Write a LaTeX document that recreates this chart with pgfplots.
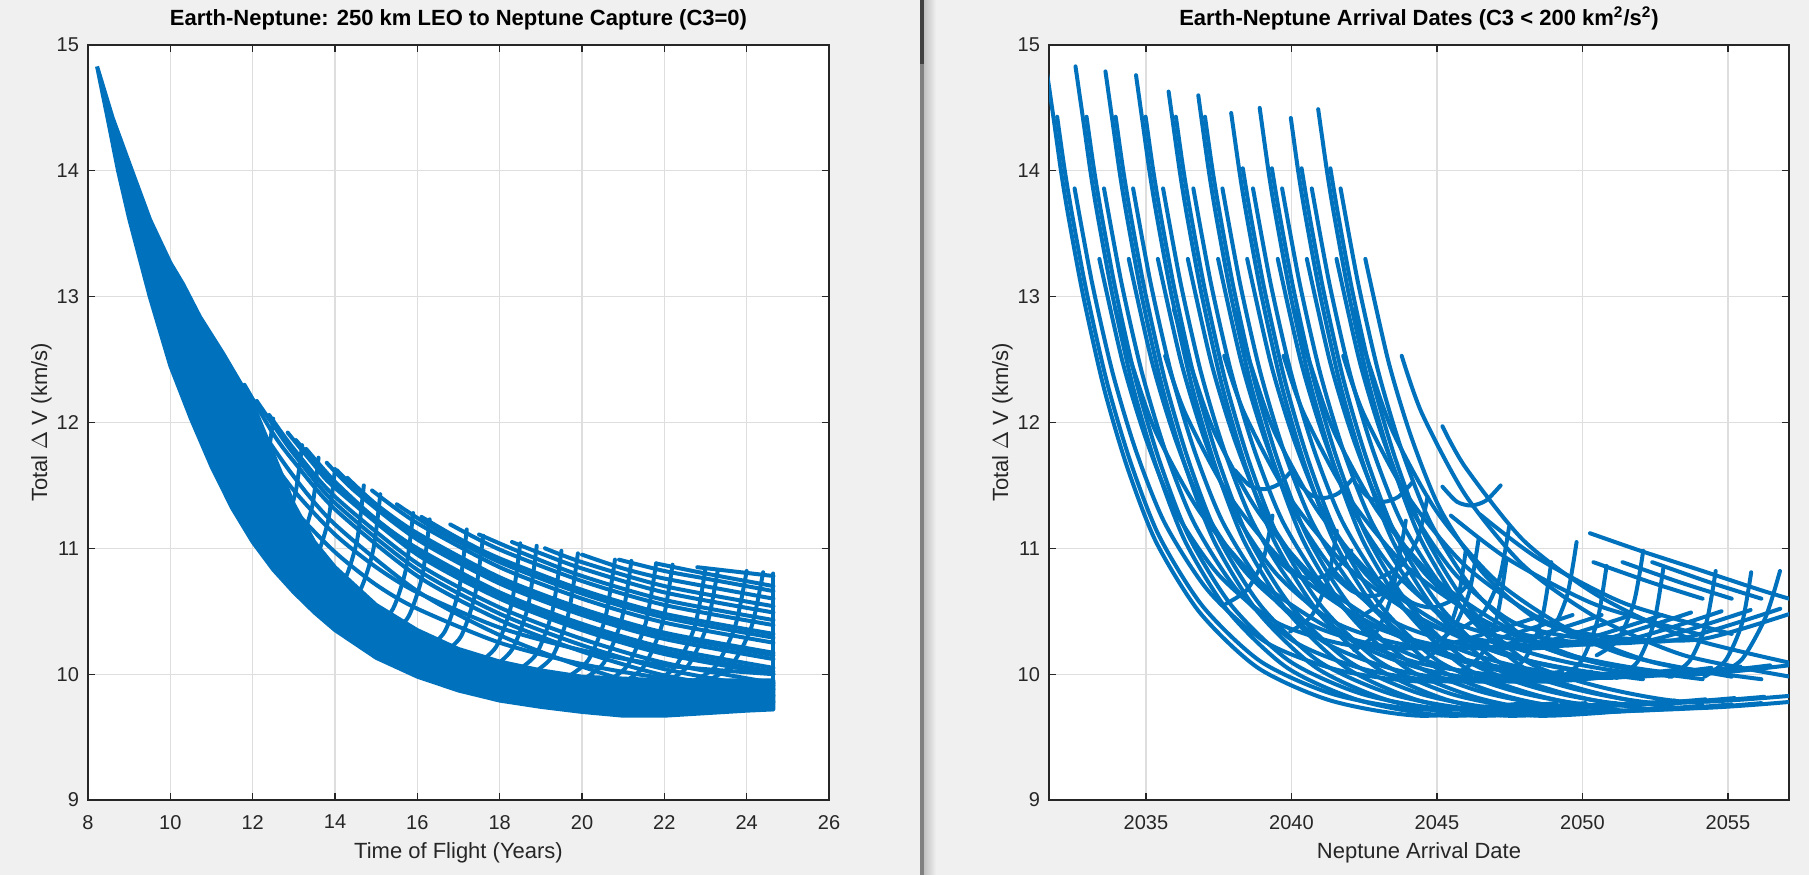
\documentclass[border=0pt]{standalone}
\usepackage{fontspec}
\setmainfont{Liberation Sans}
\usepackage{pgfplots}
\pgfplotsset{compat=1.18}
\definecolor{mblue}{RGB}{0,114,189}
\definecolor{figbg}{RGB}{240,240,240}
\definecolor{axc}{RGB}{38,38,38}

\pgfplotsset{
  matfig/.style={
    scale only axis, height=377.5bp,
    axis background/.style={fill=white},
    axis line style={draw=axc, line width=0.6bp},
    tick style={draw=axc, line width=0.6bp},
    major tick length=3.5bp,
    tick align=inside, tick pos=both,
    xmajorgrids, ymajorgrids,
    major grid style={draw=black!13, line width=0.6bp},
    ymin=9, ymax=15, ytick={9,10,...,15},
    /pgf/number format/assume math mode=true,
    tick label style={font=\fontsize{10bp}{12bp}\selectfont, text=axc},
    xticklabel style={yshift=-4bp},
    yticklabel style={xshift=-1bp},
    label style={font=\fontsize{11bp}{13bp}\selectfont, text=axc},
    xlabel style={at={(0.5,0)}, anchor=base, yshift=-29bp, inner sep=0pt},
    ylabel style={at={(-0.063,0.5)}, anchor=center, inner sep=0pt},
    title style={font=\bfseries\fontsize{11bp}{13bp}\selectfont, at={(0.5,1)},
      anchor=base, yshift=4bp, inner sep=0pt, text=black},
  },
  ln/.style={mblue, line width=2bp, line cap=round, line join=round, smooth, tension=0.45},
}

\begin{document}
\begin{tikzpicture}
% figure backgrounds and window divider
\fill[figbg] (0,0) rectangle (904.5bp,437.5bp);
\shade[left color=black!25, right color=figbg] (461.8bp,0) rectangle (468bp,437.5bp);
\fill[black!50] (460.2bp,0) rectangle (461.8bp,437.5bp);
\fill[black!75] (460.2bp,405.5bp) rectangle (461.8bp,437.5bp);

% ---------------- left: dV vs time of flight ----------------
\begin{axis}[matfig, at={(44bp,37.5bp)}, anchor=south west, width=370.5bp,
  xmin=8, xmax=26, xtick={8,10,...,26},
  title={Earth-Neptune: 250 km LEO to Neptune Capture (C3=0)},
  xlabel={Time of Flight (Years)},
  ylabel={Total $\Delta$ V (km/s)}]

% dense part of the band
\addplot[mblue, fill=mblue, line width=2bp, line join=round] coordinates {
  (8.22,14.83) (8.5,14.38) (8.73,14.0) (9.0,13.62) (9.5,13.0) (10.0,12.45)
  (10.5,12.03) (11,11.65) (11.5,11.32) (12,11.05) (12.5,10.83) (13,10.65)
  (13.5,10.49) (14,10.35) (15,10.13) (16,9.98) (17,9.87) (18,9.79) (19,9.74)
  (20,9.70) (21,9.67) (22,9.67) (23,9.69) (24,9.71) (24.65,9.72)
  (24.65,9.95) (22,9.95) (20,9.98) (19,10.03) (18,10.1) (17,10.2) (16,10.35)
  (15,10.55) (14,10.85) (13.5,11.05) (13,11.35) (12.5,11.75) (12,12.15) (11.28,12.55)
  (10.72,12.84) (10.31,13.1) (10.0,13.27) (9.51,13.61) (9.07,14.0) (8.6,14.42)
  (8.22,14.83)};

% descending curves
\addplot[ln] coordinates {(12,11.75) (13,11.31) (14,10.97) (15,10.71) (16,10.52) (18,10.25) (20,10.08) (22,9.97) (24.65,9.91)};
\addplot[ln] coordinates {(12,11.90) (13,11.46) (14,11.11) (15,10.85) (16,10.65) (18,10.37) (20,10.19) (22,10.07) (24.65,10.00)};
\addplot[ln] coordinates {(11.28,12.53) (12,12.05) (13,11.57) (14,11.19) (16,10.66) (18,10.31) (20,10.06) (22,9.87) (24.65,9.78)};
\addplot[ln] coordinates {(11.8,12.30) (12.5,11.91) (13,11.69) (14,11.31) (16,10.78) (18,10.43) (20,10.18) (22,9.99) (24.65,9.83)};
\addplot[ln] coordinates {(12.1,12.17) (12.5,11.98) (13,11.75) (14,11.36) (16,10.83) (18,10.48) (20,10.23) (22,10.04) (24.65,9.88)};
\addplot[ln] coordinates {(12.4,12.06) (13,11.79) (14,11.41) (16,10.88) (18,10.53) (20,10.28) (22,10.09) (24.65,9.93)};
\addplot[ln] coordinates {(12.85,11.92) (13.5,11.66) (14,11.48) (16,10.95) (18,10.60) (20,10.35) (22,10.16) (24.65,10.00)};
\addplot[ln] coordinates {(13.05,11.86) (13.5,11.69) (14,11.50) (16,10.98) (18,10.62) (20,10.37) (22,10.18) (24.65,10.02)};
\addplot[ln] coordinates {(13.3,11.79) (14,11.53) (15,11.23) (16,11.00) (18,10.65) (20,10.40) (22,10.21) (24.65,10.05)};
\addplot[ln] coordinates {(13.8,11.68) (14.5,11.45) (16,11.07) (18,10.72) (20,10.47) (22,10.28) (24.65,10.12)};
\addplot[ln] coordinates {(14.05,11.62) (14.5,11.48) (16,11.10) (18,10.75) (20,10.50) (22,10.31) (24.65,10.15)};
\addplot[ln] coordinates {(14.3,11.56) (15,11.35) (16,11.12) (18,10.77) (20,10.52) (22,10.33) (24.65,10.17)};
\addplot[ln] coordinates {(14.9,11.46) (16,11.20) (18,10.85) (20,10.60) (22,10.41) (24.65,10.25)};
\addplot[ln] coordinates {(15.5,11.35) (16.5,11.14) (18,10.89) (20,10.64) (22,10.45) (24.65,10.29)};
\addplot[ln] coordinates {(16.1,11.25) (17,11.08) (18,10.92) (20,10.67) (22,10.48) (24.65,10.32)};
\addplot[ln] coordinates {(16.8,11.19) (18,10.99) (20,10.74) (22,10.55) (24.65,10.39)};
\addplot[ln] coordinates {(17.5,11.11) (18.5,10.97) (20,10.78) (22,10.59) (24.65,10.43)};
\addplot[ln] coordinates {(18.3,11.05) (19,10.96) (20,10.84) (22,10.65) (24.65,10.49)};
\addplot[ln] coordinates {(19.1,11.00) (20,10.89) (22,10.70) (24.65,10.54)};
\addplot[ln] coordinates {(20,10.95) (21,10.84) (22,10.76) (24.65,10.60)};
\addplot[ln] coordinates {(20.9,10.91) (22,10.82) (23,10.76) (24.65,10.66)};
\addplot[ln] coordinates {(21.8,10.88) (23,10.80) (24.65,10.70)};
\addplot[ln] coordinates {(22.8,10.85) (24.65,10.78)};
% curve ends at the last time of flight
\addplot[ln] coordinates {(24.65,9.72) (24.65,10.80)};

% rising arms
\addplot[ln] coordinates {(11.43,11.62) (11.73,11.70) (11.97,11.90) (12.1,12.17)};
\addplot[ln] coordinates {(11.81,11.40) (12.12,11.49) (12.36,11.72) (12.5,12.03)};
\addplot[ln] coordinates {(12.47,11.09) (12.80,11.20) (13.05,11.46) (13.2,11.82)};
\addplot[ln] coordinates {(12.84,10.96) (13.18,11.07) (13.45,11.34) (13.6,11.72)};
\addplot[ln] coordinates {(13.22,10.83) (13.57,10.95) (13.84,11.23) (14.0,11.63)};
\addplot[ln] coordinates {(13.88,10.63) (14.25,10.76) (14.54,11.07) (14.7,11.50)};
\addplot[ln] coordinates {(14.25,10.55) (14.63,10.68) (14.93,10.99) (15.1,11.43)};
\addplot[ln] coordinates {(15.01,10.38) (15.41,10.52) (15.72,10.83) (15.9,11.28)};
\addplot[ln] coordinates {(15.38,10.32) (15.79,10.46) (16.12,10.78) (16.3,11.23)};
\addplot[ln] coordinates {(16.23,10.20) (16.67,10.34) (17.01,10.67) (17.2,11.15)};
\addplot[ln] coordinates {(16.61,10.16) (17.06,10.30) (17.40,10.63) (17.6,11.10)};
\addplot[ln] coordinates {(17.45,10.08) (17.92,10.22) (18.29,10.56) (18.5,11.04)};
\addplot[ln] coordinates {(17.83,10.05) (18.31,10.20) (18.69,10.54) (18.9,11.02)};
\addplot[ln] coordinates {(18.39,10.02) (18.89,10.16) (19.28,10.50) (19.5,10.98)};
\addplot[ln] coordinates {(18.77,10.00) (19.28,10.14) (19.67,10.48) (19.9,10.96)};
\addplot[ln] coordinates {(19.61,9.97) (20.15,10.11) (20.56,10.44) (20.8,10.91)};
\addplot[ln] coordinates {(19.99,9.95) (20.53,10.09) (20.96,10.43) (21.2,10.90)};
\addplot[ln] coordinates {(20.55,9.93) (21.11,10.07) (21.55,10.41) (21.8,10.88)};
\addplot[ln] coordinates {(20.93,9.92) (21.50,10.06) (21.95,10.40) (22.2,10.87)};
\addplot[ln] coordinates {(21.68,9.92) (22.27,10.06) (22.74,10.38) (23.0,10.84)};
\addplot[ln] coordinates {(21.96,9.92) (22.56,10.06) (23.03,10.38) (23.3,10.83)};
\addplot[ln] coordinates {(22.62,9.93) (23.24,10.06) (23.72,10.38) (24.0,10.82)};
\addplot[ln] coordinates {(23.0,9.94) (23.63,10.07) (24.12,10.38) (24.4,10.81)};
\end{axis}

% ---------------- right: dV vs arrival date ----------------
\begin{axis}[matfig, at={(524.5bp,37.5bp)}, anchor=south west, width=370bp,
  xmin=2031.67, xmax=2057.1,
  xtick={2035,2040,2045,2050,2055}, xticklabels={2035,2040,2045,2050,2055},
  title={Earth-Neptune Arrival Dates (C3 < 200 km\textsuperscript{2}/s\textsuperscript{2})},
  xlabel={Neptune Arrival Date},
  ylabel={Total $\Delta$ V (km/s)}]

% window 1
\addplot[ln] coordinates {(2031.60,14.78) (2031.85,14.38) (2032.10,13.97) (2032.35,13.62) (2032.85,13.00) (2033.55,12.28) (2034.35,11.65) (2035.35,11.05) (2036.85,10.49) (2038.85,10.05) (2041.35,9.79) (2044.35,9.67) (2048.00,9.72)};
\addplot[ln] coordinates {(2031.95,14.43) (2032.20,14.02) (2032.45,13.67) (2032.95,13.05) (2033.65,12.33) (2034.45,11.70) (2035.45,11.10) (2036.95,10.54) (2038.95,10.10) (2041.45,9.84) (2044.45,9.72) (2048.10,9.77)};
\addplot[ln] coordinates {(2032.55,13.86) (2033.15,13.11) (2033.85,12.40) (2034.65,11.78) (2035.65,11.20) (2037.15,10.66) (2039.15,10.25) (2041.65,10.03) (2044.65,9.94) (2048.30,10.02)};
\addplot[ln] coordinates {(2033.40,13.30) (2034.20,12.48) (2035.00,11.87) (2036.00,11.30) (2037.50,10.79) (2039.50,10.41) (2042.00,10.23) (2045.00,10.22) (2048.65,10.47)};
\addplot[ln] coordinates {(2033.95,12.90) (2034.55,12.44) (2035.35,11.92) (2036.85,11.29) (2038.85,10.75) (2041.35,10.36) (2044.35,10.09) (2048.00,9.96)};
\addplot[ln] coordinates {(2037.75,10.56) (2038.47,10.67) (2039.03,10.91) (2039.35,11.26)};

% window 2
\addplot[ln] coordinates {(2032.58,14.83) (2032.86,14.38) (2033.11,13.97) (2033.36,13.62) (2033.86,13.00) (2034.56,12.28) (2035.36,11.65) (2036.36,11.05) (2037.86,10.49) (2039.86,10.05) (2042.36,9.79) (2045.36,9.67) (2049.01,9.72)};
\addplot[ln] coordinates {(2032.96,14.43) (2033.21,14.02) (2033.46,13.67) (2033.96,13.05) (2034.66,12.33) (2035.46,11.70) (2036.46,11.10) (2037.96,10.54) (2039.96,10.10) (2042.46,9.84) (2045.46,9.72) (2049.11,9.77)};
\addplot[ln] coordinates {(2033.56,13.86) (2034.16,13.11) (2034.86,12.40) (2035.66,11.78) (2036.66,11.20) (2038.16,10.66) (2040.16,10.25) (2042.66,10.03) (2045.66,9.94) (2049.31,10.02)};
\addplot[ln] coordinates {(2034.41,13.30) (2035.21,12.48) (2036.01,11.87) (2037.01,11.30) (2038.51,10.79) (2040.51,10.41) (2043.01,10.23) (2046.01,10.22) (2049.66,10.47)};
\addplot[ln] coordinates {(2035.66,12.53) (2036.36,12.07) (2037.86,11.42) (2039.86,10.86) (2042.36,10.45) (2045.36,10.15) (2049.01,9.98)};
\addplot[ln] coordinates {(2039.96,10.34) (2040.68,10.46) (2041.24,10.74) (2041.56,11.14)};
\addplot[ln] coordinates {(2039.36,10.95) (2040.06,10.80) (2040.76,10.76) (2041.46,10.82) (2042.06,10.98)};

% window 3
\addplot[ln] coordinates {(2033.61,14.79) (2033.86,14.38) (2034.11,13.97) (2034.36,13.62) (2034.86,13.00) (2035.56,12.28) (2036.36,11.65) (2037.36,11.05) (2038.86,10.49) (2040.86,10.05) (2043.36,9.79) (2046.36,9.67) (2050.01,9.72)};
\addplot[ln] coordinates {(2033.96,14.43) (2034.21,14.02) (2034.46,13.67) (2034.96,13.05) (2035.66,12.33) (2036.46,11.70) (2037.46,11.10) (2038.96,10.54) (2040.96,10.10) (2043.46,9.84) (2046.46,9.72) (2050.11,9.77)};
\addplot[ln] coordinates {(2034.56,13.86) (2035.16,13.11) (2035.86,12.40) (2036.66,11.78) (2037.66,11.20) (2039.16,10.66) (2041.16,10.25) (2043.66,10.03) (2046.66,9.94) (2050.31,10.02)};
\addplot[ln] coordinates {(2035.41,13.30) (2036.21,12.48) (2037.01,11.87) (2038.01,11.30) (2039.51,10.79) (2041.51,10.41) (2044.01,10.23) (2047.01,10.22) (2050.66,10.47)};
\addplot[ln] coordinates {(2035.96,12.90) (2036.56,12.44) (2037.36,11.92) (2038.86,11.29) (2040.86,10.75) (2043.36,10.36) (2046.36,10.09) (2050.01,9.96)};
\addplot[ln] coordinates {(2042.16,10.19) (2042.88,10.32) (2043.44,10.62) (2043.76,11.05)};
\addplot[ln] coordinates {(2038.06,11.62) (2038.56,11.50) (2039.06,11.47) (2039.56,11.51) (2040.06,11.63)};

% window 4
\addplot[ln] coordinates {(2034.66,14.76) (2034.89,14.38) (2035.14,13.97) (2035.39,13.62) (2035.89,13.00) (2036.59,12.28) (2037.39,11.65) (2038.39,11.05) (2039.89,10.49) (2041.89,10.05) (2044.39,9.79) (2047.39,9.67) (2051.04,9.72)};
\addplot[ln] coordinates {(2034.99,14.43) (2035.24,14.02) (2035.49,13.67) (2035.99,13.05) (2036.69,12.33) (2037.49,11.70) (2038.49,11.10) (2039.99,10.54) (2041.99,10.10) (2044.49,9.84) (2047.49,9.72) (2051.14,9.77)};
\addplot[ln] coordinates {(2035.59,13.86) (2036.19,13.11) (2036.89,12.40) (2037.69,11.78) (2038.69,11.20) (2040.19,10.66) (2042.19,10.25) (2044.69,10.03) (2047.69,9.94) (2051.34,10.02)};
\addplot[ln] coordinates {(2036.44,13.30) (2037.24,12.48) (2038.04,11.87) (2039.04,11.30) (2040.54,10.79) (2042.54,10.41) (2045.04,10.23) (2048.04,10.22) (2051.69,10.47)};
\addplot[ln] coordinates {(2037.69,12.53) (2038.39,12.07) (2039.89,11.42) (2041.89,10.86) (2044.39,10.45) (2047.39,10.15) (2051.04,9.98)};
\addplot[ln] coordinates {(2044.39,10.09) (2045.11,10.22) (2045.67,10.53) (2045.99,10.98)};
\addplot[ln] coordinates {(2045.79,10.02) (2046.51,10.15) (2047.07,10.46) (2047.39,10.91)};
\addplot[ln] coordinates {(2041.39,10.80) (2042.09,10.66) (2042.79,10.62) (2043.49,10.68) (2044.09,10.83)};

% window 5
\addplot[ln] coordinates {(2035.78,14.63) (2035.93,14.38) (2036.18,13.97) (2036.43,13.62) (2036.93,13.00) (2037.63,12.28) (2038.43,11.65) (2039.43,11.05) (2040.93,10.49) (2042.93,10.05) (2045.43,9.79) (2048.43,9.67) (2052.08,9.72)};
\addplot[ln] coordinates {(2036.03,14.43) (2036.28,14.02) (2036.53,13.67) (2037.03,13.05) (2037.73,12.33) (2038.53,11.70) (2039.53,11.10) (2041.03,10.54) (2043.03,10.10) (2045.53,9.84) (2048.53,9.72) (2052.18,9.77)};
\addplot[ln] coordinates {(2036.63,13.86) (2037.23,13.11) (2037.93,12.40) (2038.73,11.78) (2039.73,11.20) (2041.23,10.66) (2043.23,10.25) (2045.73,10.03) (2048.73,9.94) (2052.38,10.02)};
\addplot[ln] coordinates {(2037.48,13.30) (2038.28,12.48) (2039.08,11.87) (2040.08,11.30) (2041.58,10.79) (2043.58,10.41) (2046.08,10.23) (2049.08,10.22) (2052.73,10.47)};
\addplot[ln] coordinates {(2038.03,12.90) (2038.63,12.44) (2039.43,11.92) (2040.93,11.29) (2042.93,10.75) (2045.43,10.36) (2048.43,10.09) (2052.08,9.96)};
\addplot[ln] coordinates {(2042.33,10.45) (2043.05,10.57) (2043.61,10.84) (2043.93,11.22)};
\addplot[ln] coordinates {(2047.33,10.00) (2048.05,10.13) (2048.61,10.44) (2048.93,10.89)};
\addplot[ln] coordinates {(2040.13,11.55) (2040.63,11.43) (2041.13,11.40) (2041.63,11.44) (2042.13,11.56)};

% window 6
\addplot[ln] coordinates {(2036.80,14.60) (2036.93,14.38) (2037.18,13.97) (2037.43,13.62) (2037.93,13.00) (2038.63,12.28) (2039.43,11.65) (2040.43,11.05) (2041.93,10.49) (2043.93,10.05) (2046.43,9.81) (2049.43,9.69) (2053.08,9.74)};
\addplot[ln] coordinates {(2037.03,14.43) (2037.28,14.02) (2037.53,13.67) (2038.03,13.05) (2038.73,12.33) (2039.53,11.70) (2040.53,11.10) (2042.03,10.54) (2044.03,10.10) (2046.53,9.86) (2049.53,9.74) (2053.18,9.79)};
\addplot[ln] coordinates {(2037.63,13.86) (2038.23,13.11) (2038.93,12.40) (2039.73,11.78) (2040.73,11.20) (2042.23,10.66) (2044.23,10.25) (2046.73,10.05) (2049.73,9.96) (2053.38,10.04)};
\addplot[ln] coordinates {(2038.48,13.30) (2039.28,12.48) (2040.08,11.87) (2041.08,11.30) (2042.58,10.79) (2044.58,10.41) (2047.08,10.25) (2050.08,10.24) (2053.73,10.49)};
\addplot[ln] coordinates {(2039.73,12.53) (2040.43,12.07) (2041.93,11.42) (2043.93,10.86) (2046.43,10.45) (2049.43,10.15) (2053.08,9.98)};
\addplot[ln] coordinates {(2044.83,10.23) (2045.55,10.36) (2046.11,10.65) (2046.43,11.07)};
\addplot[ln] coordinates {(2049.23,9.97) (2049.95,10.10) (2050.51,10.42) (2050.83,10.86)};
\addplot[ln] coordinates {(2043.43,10.70) (2044.13,10.57) (2044.83,10.53) (2045.53,10.59) (2046.13,10.73)};

% window 7
\addplot[ln] coordinates {(2037.93,14.46) (2038.23,13.97) (2038.48,13.62) (2038.98,13.00) (2039.68,12.28) (2040.48,11.65) (2041.48,11.05) (2042.98,10.49) (2044.98,10.05) (2047.48,9.82) (2050.48,9.70) (2054.13,9.75)};
\addplot[ln] coordinates {(2038.33,14.02) (2038.58,13.67) (2039.08,13.05) (2039.78,12.33) (2040.58,11.70) (2041.58,11.10) (2043.08,10.54) (2045.08,10.10) (2047.58,9.87) (2050.58,9.75) (2054.23,9.80)};
\addplot[ln] coordinates {(2038.68,13.86) (2039.28,13.11) (2039.98,12.40) (2040.78,11.78) (2041.78,11.20) (2043.28,10.66) (2045.28,10.25) (2047.78,10.06) (2050.78,9.97) (2054.43,10.05)};
\addplot[ln] coordinates {(2039.53,13.30) (2040.33,12.48) (2041.13,11.87) (2042.13,11.30) (2043.63,10.79) (2045.63,10.41) (2048.13,10.26) (2051.13,10.25) (2054.78,10.50)};
\addplot[ln] coordinates {(2040.08,12.90) (2040.68,12.44) (2041.48,11.92) (2042.98,11.29) (2044.98,10.75) (2047.48,10.36) (2050.48,10.09) (2054.13,9.96)};
\addplot[ln] coordinates {(2043.08,10.77) (2043.80,10.87) (2044.36,11.09) (2044.68,11.41)};
\addplot[ln] coordinates {(2051.18,9.97) (2051.90,10.10) (2052.46,10.41) (2052.78,10.84)};
\addplot[ln] coordinates {(2050.38,10.89) (2051.48,10.80) (2052.48,10.72) (2054.13,10.60)};
\addplot[ln] coordinates {(2045.48,11.26) (2047.48,10.91) (2050.48,10.55) (2054.13,10.31)};
\addplot[ln] coordinates {(2042.18,11.52) (2042.68,11.40) (2043.18,11.37) (2043.68,11.41) (2044.18,11.53)};

% window 8
\addplot[ln] coordinates {(2038.91,14.50) (2039.23,13.97) (2039.48,13.62) (2039.98,13.00) (2040.68,12.28) (2041.48,11.65) (2042.48,11.05) (2043.98,10.49) (2045.98,10.05) (2048.48,9.83) (2051.48,9.71) (2055.13,9.76)};
\addplot[ln] coordinates {(2039.33,14.02) (2039.58,13.67) (2040.08,13.05) (2040.78,12.33) (2041.58,11.70) (2042.58,11.10) (2044.08,10.54) (2046.08,10.10) (2048.58,9.88) (2051.58,9.76) (2055.23,9.81)};
\addplot[ln] coordinates {(2039.68,13.86) (2040.28,13.11) (2040.98,12.40) (2041.78,11.78) (2042.78,11.20) (2044.28,10.66) (2046.28,10.25) (2048.78,10.07) (2051.78,9.98) (2055.43,10.06)};
\addplot[ln] coordinates {(2040.53,13.30) (2041.33,12.48) (2042.13,11.87) (2043.13,11.30) (2044.63,10.79) (2046.63,10.41) (2049.13,10.27) (2052.13,10.26) (2055.78,10.51)};
\addplot[ln] coordinates {(2041.78,12.53) (2042.48,12.07) (2043.98,11.42) (2045.98,10.86) (2048.48,10.45) (2051.48,10.15) (2055.13,9.98)};
\addplot[ln] coordinates {(2045.88,10.37) (2046.60,10.49) (2047.16,10.77) (2047.48,11.17)};
\addplot[ln] coordinates {(2052.98,9.98) (2053.70,10.11) (2054.26,10.41) (2054.58,10.82)};
\addplot[ln] coordinates {(2051.38,10.89) (2052.48,10.80) (2053.48,10.72) (2055.13,10.60)};
\addplot[ln] coordinates {(2046.48,11.27) (2048.48,10.92) (2051.48,10.56) (2055.13,10.32)};

% window 9
\addplot[ln] coordinates {(2039.98,14.42) (2040.25,13.97) (2040.50,13.62) (2041.00,13.00) (2041.70,12.28) (2042.50,11.65) (2043.50,11.05) (2045.00,10.49) (2047.00,10.05) (2049.50,9.84) (2052.50,9.72) (2056.15,9.77)};
\addplot[ln] coordinates {(2040.35,14.02) (2040.60,13.67) (2041.10,13.05) (2041.80,12.33) (2042.60,11.70) (2043.60,11.10) (2045.10,10.54) (2047.10,10.10) (2049.60,9.89) (2052.60,9.77) (2056.25,9.82)};
\addplot[ln] coordinates {(2040.70,13.86) (2041.30,13.11) (2042.00,12.40) (2042.80,11.78) (2043.80,11.20) (2045.30,10.66) (2047.30,10.25) (2049.80,10.08) (2052.80,9.99) (2056.45,10.07)};
\addplot[ln] coordinates {(2041.55,13.30) (2042.35,12.48) (2043.15,11.87) (2044.15,11.30) (2045.65,10.79) (2047.65,10.41) (2050.15,10.28) (2053.15,10.27) (2056.80,10.52)};
\addplot[ln] coordinates {(2042.10,12.90) (2042.70,12.44) (2043.50,11.92) (2045.00,11.29) (2047.00,10.75) (2049.50,10.36) (2052.50,10.09) (2056.15,9.96)};
\addplot[ln] coordinates {(2048.20,10.20) (2048.92,10.33) (2049.48,10.63) (2049.80,11.05)};
\addplot[ln] coordinates {(2054.20,9.98) (2054.92,10.11) (2055.48,10.40) (2055.80,10.81)};
\addplot[ln] coordinates {(2052.40,10.89) (2053.50,10.80) (2054.50,10.72) (2056.15,10.60)};

% window 10
\addplot[ln] coordinates {(2040.92,14.49) (2041.24,13.97) (2041.49,13.62) (2041.99,13.00) (2042.69,12.28) (2043.49,11.65) (2044.49,11.05) (2045.99,10.49) (2047.99,10.05) (2050.49,9.85) (2053.49,9.73) (2057.14,9.78)};
\addplot[ln] coordinates {(2041.34,14.02) (2041.59,13.67) (2042.09,13.05) (2042.79,12.33) (2043.59,11.70) (2044.59,11.10) (2046.09,10.54) (2048.09,10.10) (2050.59,9.90) (2053.59,9.78) (2057.24,9.83)};
\addplot[ln] coordinates {(2041.69,13.86) (2042.29,13.11) (2042.99,12.40) (2043.79,11.78) (2044.79,11.20) (2046.29,10.66) (2048.29,10.25) (2050.79,10.09) (2053.79,10.00) (2057.44,10.08)};
\addplot[ln] coordinates {(2042.54,13.30) (2043.34,12.48) (2044.14,11.87) (2045.14,11.30) (2046.64,10.79) (2048.64,10.41) (2051.14,10.29) (2054.14,10.28) (2057.79,10.53)};
\addplot[ln] coordinates {(2043.79,12.53) (2044.49,12.07) (2045.99,11.42) (2047.99,10.86) (2050.49,10.45) (2053.49,10.15) (2057.14,9.98)};
\addplot[ln] coordinates {(2045.19,11.97) (2045.99,11.64) (2047.99,11.06) (2050.49,10.63) (2053.49,10.30) (2057.14,10.09)};
\addplot[ln] coordinates {(2045.19,11.49) (2045.69,11.37) (2046.19,11.34) (2046.69,11.38) (2047.19,11.50)};
\addplot[ln] coordinates {(2050.49,10.15) (2051.21,10.27) (2051.77,10.57) (2052.09,10.98)};
\addplot[ln] coordinates {(2054.69,10.00) (2055.49,10.12) (2056.29,10.45) (2056.79,10.82)};
\addplot[ln] coordinates {(2050.26,11.12) (2052.00,10.98) (2054.00,10.83) (2056.10,10.67) (2057.10,10.60)};
\end{axis}
\end{tikzpicture}
\end{document}
